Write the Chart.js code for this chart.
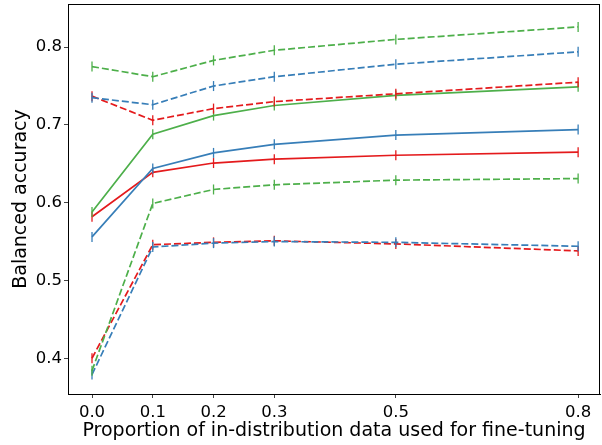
<!DOCTYPE html>
<html>
<head>
<meta charset="utf-8">
<script src="https://cdn.jsdelivr.net/npm/chart.js@4.4.1/dist/chart.umd.min.js"></script>
<style>
  html, body { margin: 0; padding: 0; background: #fff; }
  #wrap { width: 602px; height: 445px; }
</style>
</head>
<body>
<div id="wrap"><canvas id="chart" width="602" height="445"></canvas></div>
<script>
// proportions of in-distribution data (x axis)
const proportions = [0.0, 0.1, 0.2, 0.3, 0.5, 0.8];
const xTicks = [0.0, 0.1, 0.2, 0.3, 0.5, 0.8];
const yTicks = [0.4, 0.5, 0.6, 0.7, 0.8];

// solid lines
const redSolid   = [0.582, 0.639, 0.651, 0.656, 0.661, 0.665];
const blueSolid  = [0.556, 0.644, 0.664, 0.675, 0.687, 0.694];
const greenSolid = [0.588, 0.688, 0.712, 0.725, 0.738, 0.749];

// dashed lines, upper group
const redDashHigh   = [0.737, 0.706, 0.721, 0.730, 0.740, 0.755];
const blueDashHigh  = [0.735, 0.726, 0.750, 0.762, 0.778, 0.794];
const greenDashHigh = [0.775, 0.762, 0.783, 0.796, 0.810, 0.826];

// dashed lines, lower group
const redDashLow   = [0.400, 0.546, 0.549, 0.551, 0.547, 0.538];
const blueDashLow  = [0.379, 0.543, 0.548, 0.550, 0.549, 0.544];
const greenDashLow = [0.384, 0.599, 0.617, 0.623, 0.629, 0.631];

const RED = "#e41a1c";
const BLUE = "#377eb8";
const GREEN = "#4daf4a";

function makeSeries(label, values, color, dashed) {
    return {
        label: label,
        data: values.map((v, i) => ({ x: proportions[i], y: v })),
        borderColor: color,
        backgroundColor: color,
        borderWidth: 1.7,
        borderDash: dashed ? [7, 3] : [],
        pointStyle: "line",
        rotation: 90,
        pointRadius: 5,
        pointBorderWidth: 1.3,
        pointHoverRadius: 5,
        tension: 0
    };
}

// full box round the plot, like matplotlib spines
const frame = {
    id: "frame",
    afterDraw(chart) {
        const a = chart.chartArea;
        const ctx = chart.ctx;
        ctx.save();
        ctx.strokeStyle = "#000";
        ctx.lineWidth = 1;
        ctx.strokeRect(a.left + 0.5, a.top + 0.5, a.right - a.left - 1, a.bottom - a.top);
        ctx.restore();
    }
};

const font = "'DejaVu Sans', sans-serif";

new Chart(document.getElementById("chart"), {
    type: "line",
    data: {
        datasets: [
            makeSeries("green dashed high", greenDashHigh, GREEN, true),
            makeSeries("blue dashed high", blueDashHigh, BLUE, true),
            makeSeries("red dashed high", redDashHigh, RED, true),
            makeSeries("green solid", greenSolid, GREEN, false),
            makeSeries("blue solid", blueSolid, BLUE, false),
            makeSeries("red solid", redSolid, RED, false),
            makeSeries("green dashed low", greenDashLow, GREEN, true),
            makeSeries("blue dashed low", blueDashLow, BLUE, true),
            makeSeries("red dashed low", redDashLow, RED, true)
        ]
    },
    options: {
        responsive: false,
        animation: false,
        layout: { autoPadding: false, padding: { top: 4, right: 2, left: 0, bottom: 0 } },
        plugins: {
            legend: { display: false },
            tooltip: { enabled: false }
        },
        scales: {
            x: {
                type: "linear",
                min: -0.0395,
                max: 0.836,
                afterBuildTicks: axis => { axis.ticks = xTicks.map(v => ({ value: v })); },
                afterFit: axis => {
                    axis.height = 51;
                    axis.paddingLeft = 0;
                    axis.paddingRight = 0;
                },
                ticks: {
                    autoSkip: false,
                    maxRotation: 0,
                    padding: 5,
                    color: "#000",
                    font: { family: font, size: 16.5 },
                    callback: v => v.toFixed(1)
                },
                grid: { drawOnChartArea: false, tickLength: 4, color: "#444" },
                border: { color: "#000" },
                title: {
                    display: true,
                    text: "Proportion of in-distribution data used for fine-tuning",
                    color: "#000",
                    font: { family: font, size: 19 },
                    padding: { top: 0, bottom: 3 }
                }
            },
            y: {
                min: 0.354,
                max: 0.8555,
                afterBuildTicks: axis => { axis.ticks = yTicks.map(v => ({ value: v })); },
                afterFit: axis => {
                    axis.width = 68;
                    axis.paddingTop = 0;
                    axis.paddingBottom = 0;
                },
                ticks: {
                    padding: 2,
                    color: "#000",
                    font: { family: font, size: 16.5 },
                    callback: v => v.toFixed(1)
                },
                grid: { drawOnChartArea: false, tickLength: 4, color: "#444" },
                border: { color: "#000" },
                title: {
                    display: true,
                    text: "Balanced accuracy",
                    color: "#000",
                    font: { family: font, size: 19 },
                    padding: { top: 10, bottom: 0 }
                }
            }
        }
    },
    plugins: [frame]
});
</script>
</body>
</html>
